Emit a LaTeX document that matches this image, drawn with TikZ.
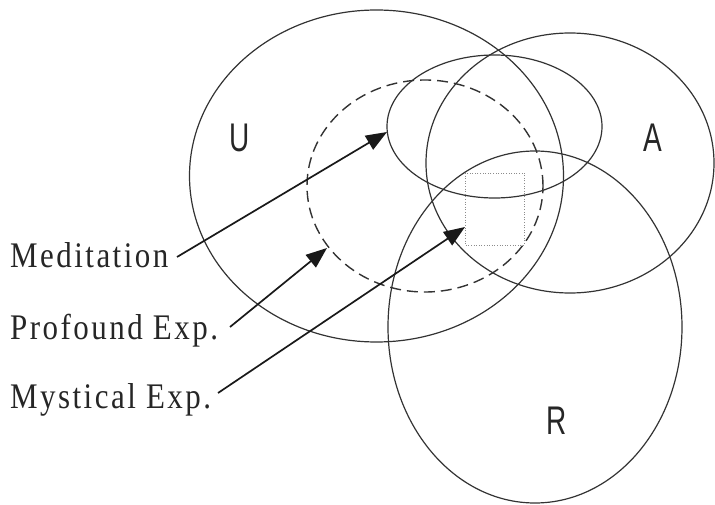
\documentclass[tikz,border=0pt]{standalone}
\usepackage{fontspec}
\setmainfont{Liberation Serif}
\setsansfont{Liberation Sans}
\usetikzlibrary{arrows.meta}
\begin{document}
\begin{tikzpicture}[x=1pt,y=-1pt,
  ring/.style={draw=black!80, line width=1.2pt},
  dashring/.style={draw=black!80, line width=1.4pt, dash pattern=on 11pt off 6pt},
  dotbox/.style={draw=black!45, line width=0.9pt, dash pattern=on 1pt off 1.6pt},
  arr/.style={draw=black!90, line width=1.7pt, -{Triangle[length=21pt,width=16pt]}},
  lbl/.style={font=\fontsize{36}{36}\selectfont\addfontfeature{LetterSpace=8}, inner sep=0pt, anchor=base west, text=black!85},
  setlbl/.style={font=\sffamily\fontsize{40}{40}\selectfont, inner sep=0pt, text=black!85}]
\useasboundingbox (0,0) rectangle (715,505);
% sets
\draw[ring] (376.5,176) ellipse [x radius=187pt, y radius=166pt];
\draw[ring] (570,163) ellipse [x radius=144pt, y radius=130pt];
\draw[ring] (535,327) ellipse [x radius=147pt, y radius=176pt];
\draw[ring] (494.5,126.5) ellipse [x radius=107.5pt, y radius=71.5pt];
\draw[dashring] (425,186) ellipse [x radius=118pt, y radius=106pt];
\draw[dotbox] (465,173) rectangle (524.5,245);
% set labels
\node[setlbl] (U) at (240,138) {\scalebox{0.7}[1]{U}};
\node[setlbl] (A) at (653,137.5) {\scalebox{0.7}[1]{A}};
\node[setlbl] (R) at (557,421) {\scalebox{0.7}[1]{R}};
% text labels
\node[lbl] (med) at (10,267) {\scalebox{0.86}[1]{Meditation}};
\node[lbl] (prof) at (10,339) {\scalebox{0.86}[1]{Profound Exp.}};
\node[lbl] (myst) at (10,408) {\scalebox{0.86}[1]{Mystical Exp.}};
% connector ends
\coordinate (medS) at (177,257);
\coordinate (profS) at (230,327);
\coordinate (mystS) at (218,393);
\coordinate (medT) at (387,132);
\coordinate (profT) at (327,248);
\coordinate (mystT) at (465,227);
\draw[arr] (medS) -- (medT);
\draw[arr] (profS) -- (profT);
\draw[arr] (mystS) -- (mystT);
\end{tikzpicture}
\end{document}
